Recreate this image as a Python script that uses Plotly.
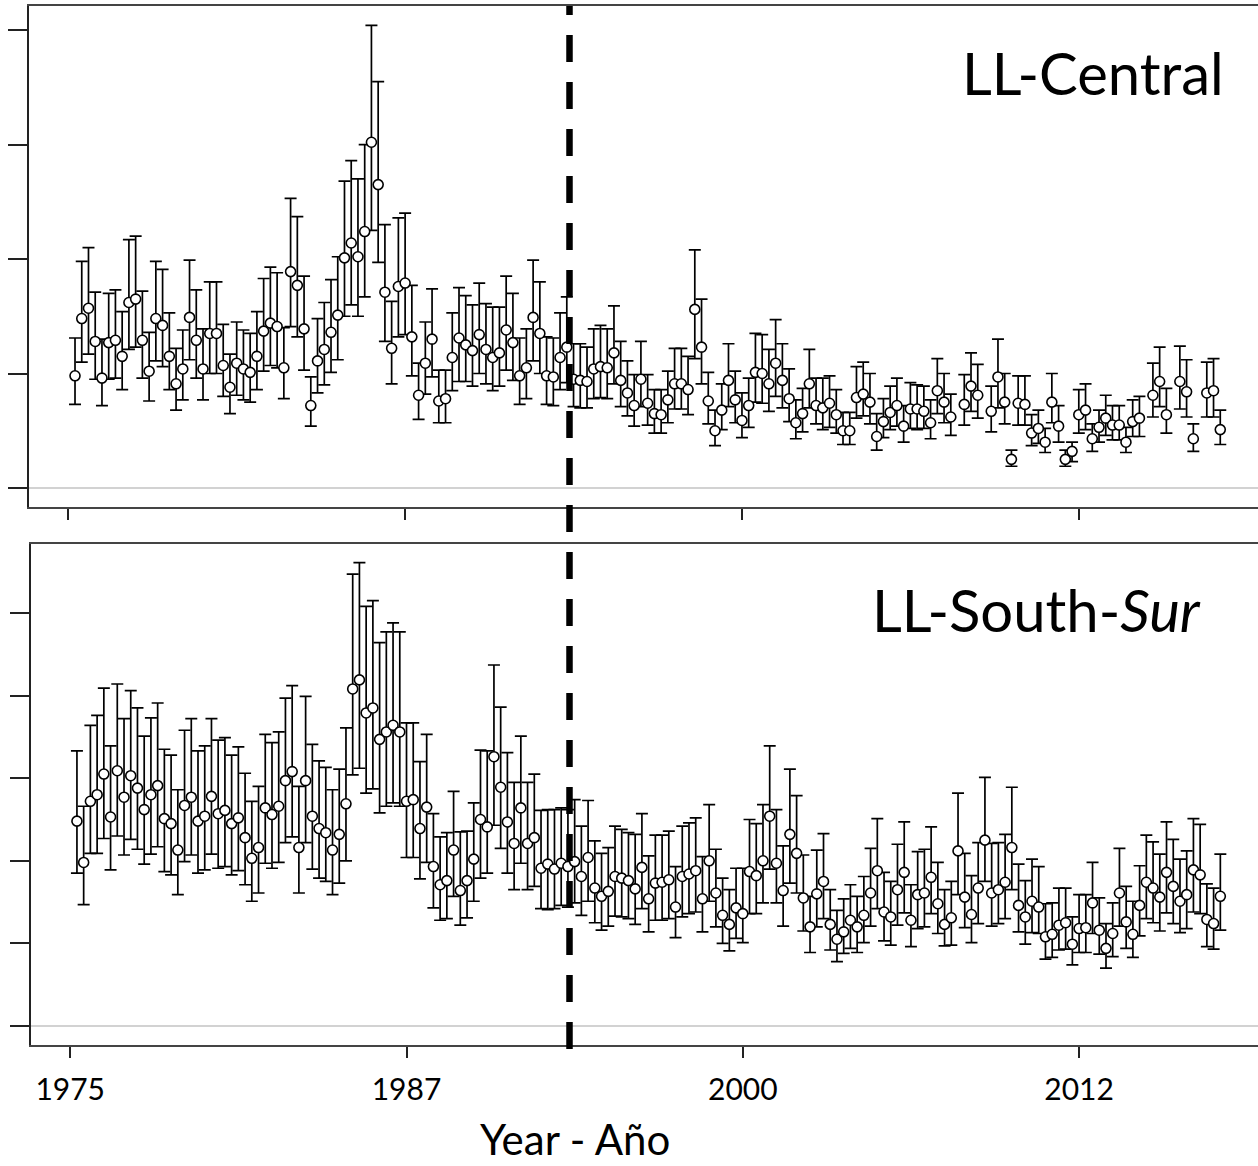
import plotly.graph_objects as go

# ---------------- data (quarterly index 1..171, relative CPUE units) ----------------
tick_positions = [0, 50, 100, 150]
tick_labels = ["1975", "1987", "2000", "2012"]
break_index = 74.4   # dashed vertical line (quarter index)

central_val = [
    0.98, 1.48, 1.57, 1.28, 0.96, 1.27, 1.29, 1.15, 1.62, 1.65,
    1.29, 1.02, 1.48, 1.42, 1.15, 0.91, 1.04, 1.49, 1.29, 1.04,
    1.35, 1.35, 1.07, 0.88, 1.09, 1.04, 1.01, 1.15, 1.37, 1.44,
    1.41, 1.05, 1.89, 1.77, 1.39, 0.72, 1.11, 1.21, 1.36, 1.51,
    2.01, 2.14, 2.02, 2.24, 3.02, 2.65, 1.71, 1.22, 1.76, 1.79,
    1.32, 0.81, 1.09, 1.30, 0.76, 0.78, 1.14, 1.31, 1.25, 1.20,
    1.34, 1.21, 1.14, 1.18, 1.38, 1.27, 0.98, 1.05, 1.49, 1.35,
    0.98, 0.97, 1.14, 1.23, 0.95, 0.94, 0.93, 1.04, 1.06, 1.05,
    1.18, 0.94, 0.83, 0.72, 0.95, 0.74, 0.65, 0.64, 0.77, 0.91,
    0.91, 0.86, 1.56, 1.23, 0.76, 0.50, 0.68, 0.94, 0.77, 0.59,
    0.72, 1.01, 1.00, 0.91, 1.09, 0.94, 0.78, 0.57, 0.65, 0.91,
    0.72, 0.70, 0.74, 0.64, 0.50, 0.50, 0.79, 0.82, 0.75, 0.45,
    0.58, 0.66, 0.72, 0.54, 0.69, 0.69, 0.67, 0.57, 0.85, 0.75,
    0.62, None, 0.73, 0.89, 0.81, None, 0.67, 0.97, 0.75, 0.25,
    0.74, 0.73, 0.48, 0.52, 0.40, 0.75, 0.54, 0.25, 0.32, 0.64,
    0.68, 0.43, 0.53, 0.61, 0.55, 0.55, 0.40, 0.58, 0.61, None,
    0.81, 0.93, 0.64, None, 0.93, 0.84, 0.43, None, 0.83, 0.85,
    0.51,
]
central_hi = [
    1.31, 1.98, 2.10, 1.71, 1.30, 1.70, 1.73, 1.54, 2.17, 2.20,
    1.72, 1.36, 1.98, 1.91, 1.53, 1.22, 1.38, 1.99, 1.73, 1.39,
    1.80, 1.80, 1.43, 1.17, 1.45, 1.38, 1.35, 1.54, 1.83, 1.93,
    1.88, 1.40, 2.53, 2.37, 1.85, 0.97, 1.48, 1.62, 1.82, 2.02,
    2.68, 2.86, 2.70, 3.00, 4.04, 3.55, 2.30, 1.63, 2.36, 2.40,
    1.77, 1.09, 1.45, 1.74, 1.03, 1.03, 1.53, 1.75, 1.68, 1.60,
    1.79, 1.61, 1.58, 1.58, 1.85, 1.70, 1.31, 1.39, 1.99, 1.80,
    1.32, 1.31, 1.53, 1.67, 1.26, 1.26, 1.23, 1.39, 1.42, 1.39,
    1.59, 1.28, 1.11, 0.99, 1.28, 0.99, 0.86, 0.86, 1.02, 1.22,
    1.22, 1.15, 2.08, 1.65, 1.01, 0.68, 0.91, 1.26, 1.02, 0.83,
    0.96, 1.35, 1.34, 1.21, 1.47, 1.26, 1.04, 0.77, 0.87, 1.21,
    0.96, 0.96, 0.98, 0.86, 0.66, 0.66, 1.06, 1.10, 1.00, 0.65,
    0.78, 0.89, 0.96, 0.72, 0.92, 0.90, 0.89, 0.77, 1.13, 1.00,
    0.82, None, 0.99, 1.18, 1.08, None, 0.89, 1.30, 1.00, 0.33,
    0.98, 0.98, 0.64, 0.68, 0.52, 1.00, 0.72, 0.33, 0.40, 0.86,
    0.91, 0.56, 0.68, 0.81, 0.72, 0.72, 0.53, 0.77, 0.80, None,
    1.09, 1.23, 0.87, None, 1.24, 1.12, 0.56, None, 1.10, 1.13,
    0.68,
]
central_lo = [
    0.73, 1.10, 1.17, 0.95, 0.72, 0.95, 0.96, 0.86, 1.21, 1.23,
    0.96, 0.76, 1.11, 1.06, 0.86, 0.68, 0.77, 1.12, 0.96, 0.77,
    1.00, 1.00, 0.80, 0.65, 0.81, 0.77, 0.75, 0.86, 1.02, 1.07,
    1.05, 0.78, 1.41, 1.32, 1.03, 0.54, 0.83, 0.90, 1.01, 1.12,
    1.50, 1.60, 1.50, 1.67, 2.25, 1.97, 1.28, 0.91, 1.32, 1.34,
    0.98, 0.60, 0.82, 0.97, 0.57, 0.57, 0.85, 0.93, 0.93, 0.89,
    1.00, 0.91, 0.85, 0.89, 1.03, 0.94, 0.73, 0.78, 1.11, 1.00,
    0.73, 0.72, 0.86, 0.92, 0.71, 0.70, 0.70, 0.78, 0.79, 0.78,
    0.91, 0.71, 0.63, 0.54, 0.71, 0.55, 0.48, 0.48, 0.57, 0.69,
    0.69, 0.64, 1.13, 0.91, 0.56, 0.37, 0.51, 0.71, 0.57, 0.44,
    0.53, 0.75, 0.74, 0.67, 0.80, 0.70, 0.58, 0.43, 0.49, 0.70,
    0.56, 0.51, 0.53, 0.48, 0.38, 0.38, 0.61, 0.63, 0.56, 0.33,
    0.44, 0.51, 0.54, 0.40, 0.52, 0.51, 0.52, 0.43, 0.65, 0.57,
    0.46, None, 0.55, 0.67, 0.61, None, 0.49, 0.70, 0.56, 0.19,
    0.55, 0.55, 0.37, 0.39, 0.31, 0.57, 0.40, 0.19, 0.23, 0.48,
    0.51, 0.32, 0.40, 0.46, 0.42, 0.42, 0.31, 0.45, 0.45, None,
    0.62, 0.71, 0.48, None, 0.69, 0.62, 0.32, None, 0.62, 0.62,
    0.38,
]

south_val = [
    2.48, 1.98, 2.72, 2.80, 3.05, 2.53, 3.09, 2.77, 3.03, 2.88,
    2.62, 2.80, 2.91, 2.51, 2.45, 2.13, 2.67, 2.77, 2.48, 2.54,
    2.78, 2.57, 2.61, 2.45, 2.52, 2.28, 2.03, 2.16, 2.64, 2.56,
    2.66, 2.97, 3.08, 2.16, 2.97, 2.54, 2.39, 2.34, 2.13, 2.32,
    2.69, 4.08, 4.19, 3.79, 3.85, 3.47, 3.56, 3.64, 3.56, 2.72,
    2.74, 2.39, 2.65, 1.93, 1.71, 1.76, 2.13, 1.64, 1.76, 2.02,
    2.50, 2.41, 3.26, 2.89, 2.47, 2.21, 2.64, 2.21, 2.28, 1.91,
    1.96, 1.90, 1.97, 1.93, 1.99, 1.81, 2.04, 1.67, 1.57, 1.63,
    1.81, 1.79, 1.76, 1.66, 1.92, 1.54, 1.73, 1.74, 1.77, 1.44,
    1.81, 1.84, 1.88, 1.54, 2.00, 1.61, 1.34, 1.23, 1.43, 1.36,
    1.87, 1.82, 2.00, 2.54, 1.97, 1.64, 2.32, 2.09, 1.55, 1.20,
    1.60, 1.75, 1.23, 1.05, 1.14, 1.28, 1.20, 1.34, 1.61, 1.88,
    1.38, 1.32, 1.65, 1.86, 1.28, 1.59, 1.61, 1.80, 1.48, 1.23,
    1.31, 2.12, 1.56, 1.35, 1.67, 2.25, 1.61, 1.65, 1.74, 2.16,
    1.46, 1.32, 1.51, 1.44, 1.08, 1.11, 1.22, 1.25, 0.99, 1.18,
    1.19, 1.49, 1.16, 0.94, 1.12, 1.61, 1.26, 1.11, 1.46, 1.74,
    1.67, 1.56, 1.86, 1.69, 1.51, 1.59, 1.89, 1.83, 1.29, 1.24,
    1.57,
]
south_hi = [
    3.33, 2.66, 3.64, 3.76, 4.09, 3.39, 4.14, 3.72, 4.06, 3.85,
    3.51, 3.73, 3.91, 3.35, 3.28, 2.86, 3.58, 3.72, 3.33, 3.39,
    3.72, 3.46, 3.49, 3.28, 3.38, 3.06, 2.72, 2.90, 3.53, 3.43,
    3.56, 3.97, 4.12, 2.90, 3.99, 3.41, 3.21, 3.13, 2.86, 3.11,
    3.61, 5.47, 5.61, 5.08, 5.15, 4.64, 4.77, 4.88, 4.77, 3.67,
    3.67, 3.20, 3.53, 2.57, 2.29, 2.34, 2.84, 2.35, 2.36, 2.70,
    3.34, 3.33, 4.37, 3.86, 3.31, 2.95, 3.51, 2.95, 3.05, 2.61,
    2.62, 2.62, 2.64, 2.62, 2.74, 2.42, 2.73, 2.24, 2.09, 2.16,
    2.42, 2.38, 2.34, 2.32, 2.57, 2.06, 2.31, 2.31, 2.36, 1.93,
    2.42, 2.46, 2.52, 2.05, 2.68, 2.14, 1.79, 1.65, 1.91, 1.91,
    2.50, 2.45, 2.68, 3.39, 2.62, 2.18, 3.11, 2.79, 2.07, 1.57,
    2.13, 2.33, 1.65, 1.40, 1.54, 1.71, 1.57, 1.81, 2.15, 2.51,
    1.86, 1.75, 2.20, 2.47, 1.71, 2.11, 2.14, 2.41, 1.98, 1.65,
    1.75, 2.82, 2.09, 1.82, 2.22, 3.01, 2.21, 2.22, 2.32, 2.89,
    1.96, 1.76, 2.02, 1.93, 1.48, 1.49, 1.67, 1.67, 1.32, 1.59,
    1.59, 1.98, 1.55, 1.24, 1.49, 2.15, 1.69, 1.51, 1.94, 2.31,
    2.23, 2.08, 2.47, 2.26, 2.02, 2.12, 2.51, 2.44, 1.72, 1.67,
    2.08,
]
south_lo = [
    1.85, 1.47, 2.09, 2.09, 2.27, 1.89, 2.30, 2.07, 2.26, 2.14,
    1.96, 2.08, 2.17, 1.87, 1.83, 1.59, 1.99, 2.07, 1.85, 1.89,
    2.08, 1.91, 1.93, 1.83, 1.88, 1.71, 1.51, 1.61, 1.97, 1.91,
    1.98, 2.22, 2.29, 1.61, 2.22, 1.90, 1.79, 1.75, 1.59, 1.73,
    2.00, 3.04, 3.12, 2.82, 2.87, 2.58, 2.66, 2.70, 2.66, 2.04,
    2.04, 1.78, 1.98, 1.43, 1.28, 1.30, 1.57, 1.22, 1.31, 1.51,
    1.79, 1.85, 2.43, 2.15, 1.85, 1.65, 1.97, 1.65, 1.69, 1.42,
    1.41, 1.42, 1.46, 1.44, 1.49, 1.34, 1.51, 1.25, 1.16, 1.21,
    1.33, 1.32, 1.30, 1.23, 1.42, 1.14, 1.28, 1.28, 1.30, 1.07,
    1.32, 1.36, 1.38, 1.14, 1.51, 1.20, 1.00, 0.91, 1.06, 1.01,
    1.36, 1.36, 1.49, 1.90, 1.49, 1.21, 1.73, 1.61, 1.15, 0.89,
    1.20, 1.30, 0.92, 0.78, 0.88, 0.94, 0.89, 1.01, 1.21, 1.42,
    1.03, 0.98, 1.22, 1.37, 0.96, 1.18, 1.20, 1.36, 1.12, 0.97,
    0.98, 1.59, 1.19, 1.01, 1.24, 1.75, 1.21, 1.24, 1.30, 1.65,
    1.14, 0.99, 1.13, 1.12, 0.81, 0.83, 0.92, 0.93, 0.74, 0.89,
    0.89, 1.12, 0.87, 0.70, 0.84, 1.21, 0.94, 0.83, 1.09, 1.30,
    1.25, 1.15, 1.37, 1.24, 1.13, 1.18, 1.38, 1.36, 0.96, 0.93,
    1.16,
]

panel_titles = ["LL-Central", "LL-South-<i>Sur</i>"]
x_title = "Year - Año"

# ---------------- figure ----------------
W, H = 1258, 1166
FONT = "Lato"

def series(vals, his, los):
    xs, ys, up, dn = [], [], [], []
    for i, (v, h, l) in enumerate(zip(vals, his, los), start=1):
        if v is None:
            continue
        xs.append(i)
        ys.append(v)
        up.append(h - v)
        dn.append(v - l)
    return xs, ys, up, dn

fig = go.Figure()

for k, (vals, his, los) in enumerate([(central_val, central_hi, central_lo),
                                      (south_val, south_hi, south_lo)]):
    xs, ys, up, dn = series(vals, his, los)
    fig.add_trace(go.Scatter(
        x=xs, y=ys, mode="markers",
        xaxis="x" if k == 0 else "x2",
        yaxis="y" if k == 0 else "y2",
        marker=dict(symbol="circle", size=10, color="white",
                    line=dict(color="black", width=1.6)),
        error_y=dict(type="data", symmetric=False, array=up, arrayminus=dn,
                     color="black", thickness=1.7, width=6),
        showlegend=False, hoverinfo="skip",
    ))

xr = [-5.83, 176.6]
common_x = dict(range=xr, tickvals=tick_positions, ticks="outside", ticklen=11,
                tickwidth=2, tickcolor="#222", showline=True, linecolor="#444",
                linewidth=2, mirror=True, showgrid=False, zeroline=False)
common_y = dict(ticks="outside", ticklen=19, tickwidth=2, tickcolor="#222",
                showticklabels=False, showline=True, linecolor="#222",
                linewidth=2, mirror=False, showgrid=False, zeroline=True,
                zerolinecolor="#d2d2d2", zerolinewidth=2)

fig.update_layout(
    width=W, height=H,
    margin=dict(l=0, r=0, t=0, b=0),
    paper_bgcolor="white", plot_bgcolor="white",
    font=dict(family=FONT, color="black"),
    xaxis=dict(domain=[29 / W, 1], showticklabels=False, anchor="y", **common_x),
    yaxis=dict(domain=[1 - 507 / H, 1 - 6 / H], range=[-0.166, 4.21],
               tickvals=[0, 1, 2, 3, 4], anchor="x", **common_y),
    xaxis2=dict(domain=[31 / W, 1], ticktext=tick_labels, showticklabels=True,
                tickfont=dict(family=FONT, size=30, color="black"),
                ticklabelstandoff=6,
                anchor="y2", **common_x),
    yaxis2=dict(domain=[1 - 1045 / H, 1 - 544 / H], range=[-0.23, 5.835],
                tickvals=[0, 1, 2, 3, 4, 5], anchor="x2", **common_y),
)

fig.add_shape(type="line", xref="x", yref="paper",
              x0=break_index, x1=break_index, y0=1 - 1049 / H, y1=1 - 6 / H,
              line=dict(color="black", width=6.5, dash="27px,20px"))

fig.add_annotation(text=panel_titles[0], xref="paper", yref="paper",
                   x=1226 / W, y=1 - 36 / H, xanchor="right", yanchor="top",
                   showarrow=False, font=dict(family=FONT, size=58, color="black"))
fig.add_annotation(text=panel_titles[1], xref="paper", yref="paper",
                   x=1203 / W, y=1 - 573 / H, xanchor="right", yanchor="top",
                   showarrow=False, font=dict(family=FONT, size=58, color="black"))
fig.add_annotation(text=x_title, xref="paper", yref="paper",
                   x=575 / W, y=0, xanchor="center", yanchor="bottom",
                   showarrow=False, font=dict(family=FONT, size=42, color="black"))

fig.write_html("out.html")
